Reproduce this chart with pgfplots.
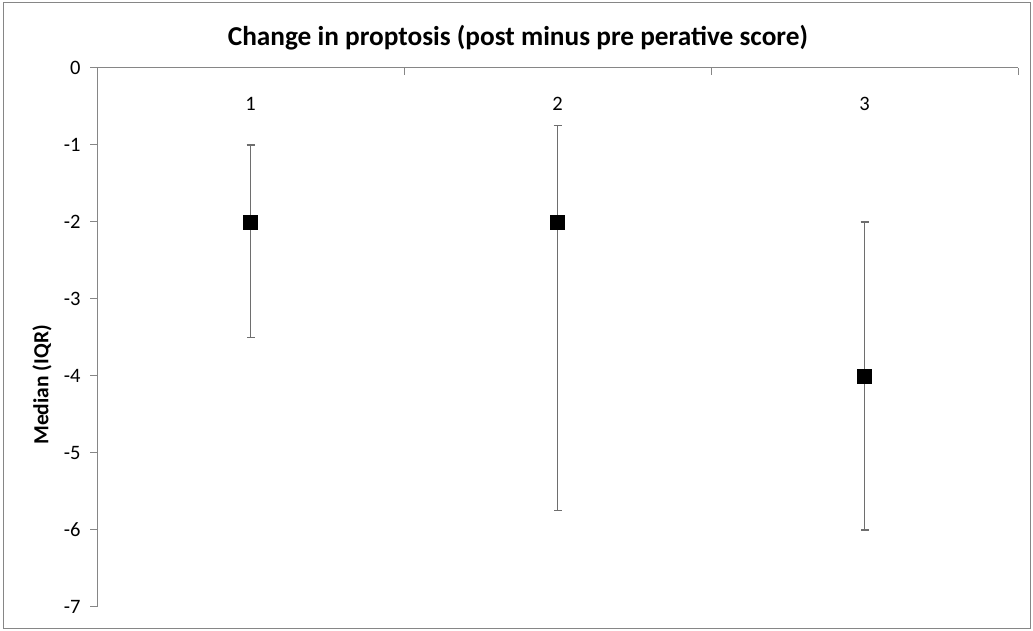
\documentclass[border=0pt]{standalone}
\usepackage{fontspec}
\setmainfont{Carlito}
\usepackage{pgfplots}
\usepackage{pgfplotstable}
\pgfplotsset{compat=1.18}
\definecolor{axgray}{HTML}{868686}
\definecolor{bargray}{HTML}{6E6E6E}
\pgfplotstableread{
x y ep em
1 -2 1 1.5
2 -2 1.25 3.75
3 -4 2 2
}\datatable
\begin{document}
\begin{tikzpicture}
\useasboundingbox (0,0) rectangle (1033pt,631pt);
\draw[axgray, line width=1.5pt] (3.5pt,2.5pt) rectangle (1030.5pt,628.5pt);
\begin{axis}[
  at={(97pt,24pt)}, anchor=south west,
  scale only axis, width=921pt, height=539pt,
  xmin=0.5, xmax=3.5, ymin=-7, ymax=0,
  axis x line*=top, axis y line*=left,
  axis line style={axgray, line width=1pt},
  tick align=inside,
  xtick={0.5,1.5,2.5,3.5}, xticklabels={},
  major tick length=7pt,
  x tick style={axgray, line width=1pt},
  y tick style={axgray, line width=1pt, xshift=-7pt},
  ytick={-7,-6,-5,-4,-3,-2,-1,0},
  yticklabels={-7,-6,-5,-4,-3,-2,-1,0},
  yticklabel style={font=\fontsize{20.5}{24}\selectfont, anchor=east, xshift=-13pt},
  extra x ticks={1,2,3},
  extra x tick labels={1,2,3},
  extra x tick style={major tick length=0pt, xticklabel style={anchor=center, yshift=-36pt, font=\fontsize{20.5}{24}\selectfont}},
  title={Change in proptosis (post minus pre perative score)},
  title style={font=\fontsize{27.3}{32}\selectfont\bfseries, at={(axis description cs:0.457,1.0557)}, anchor=base, yshift=-14pt},
  ylabel={Median (IQR)},
  ylabel style={font=\fontsize{21.5}{25}\selectfont\bfseries, at={(axis description cs:-0.0597,0.412)}, anchor=center, rotate=0},
  clip=false,
]
\addplot[only marks, mark=square*, mark size=7pt, mark options={black, fill=black},
  error bars/.cd, y dir=both, y explicit,
  error bar style={bargray, line width=1.2pt},
  error mark options={bargray, line width=1.2pt, mark size=4pt, rotate=90}]
  table[x=x, y=y, y error plus=ep, y error minus=em] {\datatable};
\end{axis}
\end{tikzpicture}
\end{document}
